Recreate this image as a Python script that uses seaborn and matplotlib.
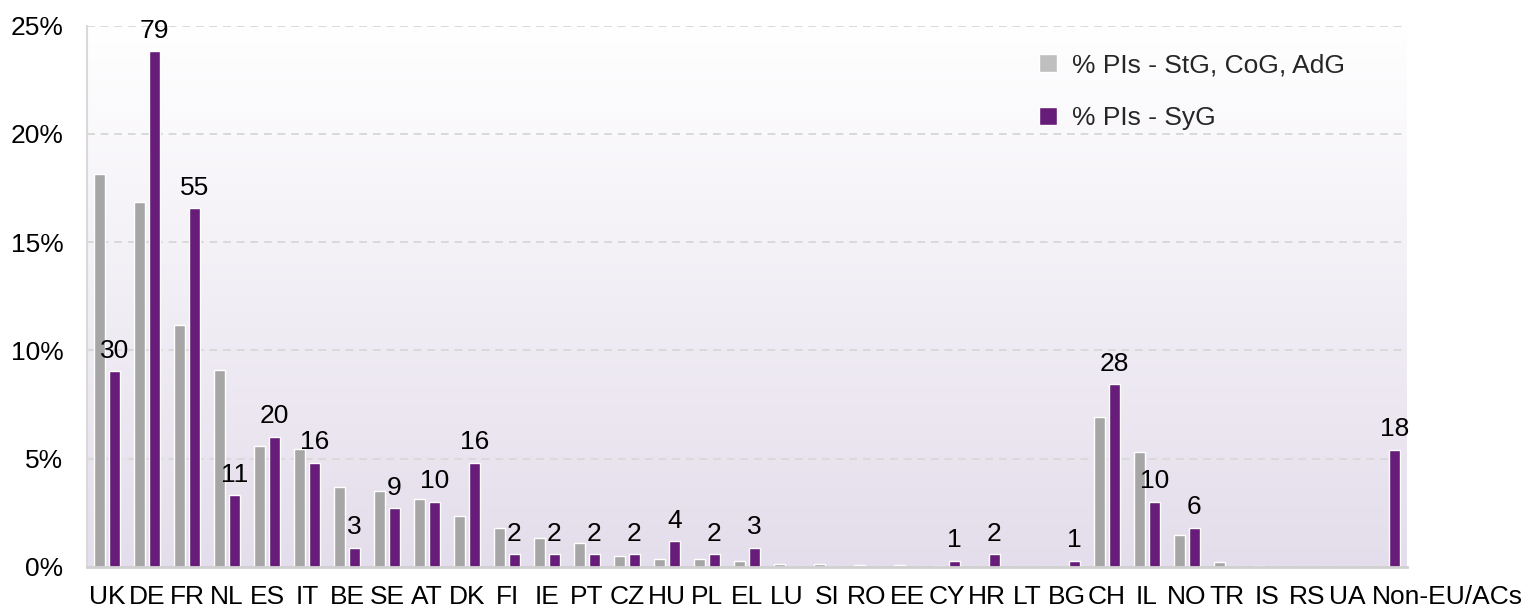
import numpy as np
import pandas as pd
import matplotlib
matplotlib.use("Agg")
import matplotlib.pyplot as plt
import matplotlib.transforms as mtransforms
import seaborn as sns

countries = ["UK", "DE", "FR", "NL", "ES", "IT", "BE", "SE", "AT", "DK", "FI", "IE",
             "PT", "CZ", "HU", "PL", "EL", "LU", "SI", "RO", "EE", "CY", "HR", "LT",
             "BG", "CH", "IL", "NO", "TR", "IS", "RS", "UA", "Non-EU/ACs"]
pct_other = [18.15, 16.85, 11.15, 9.10, 5.60, 5.45, 3.68, 3.50, 3.15, 2.36, 1.82, 1.34,
             1.12, 0.50, 0.37, 0.36, 0.28, 0.14, 0.12, 0.09, 0.09, 0.05, 0.02, 0.02,
             0.00, 6.93, 5.30, 1.50, 0.23, 0.03, 0.00, 0.00, 0.00]
pct_syg = [9.04, 23.80, 16.57, 3.31, 6.02, 4.82, 0.90, 2.71, 3.01, 4.82, 0.60, 0.60,
           0.60, 0.60, 1.20, 0.60, 0.90, 0.00, 0.00, 0.00, 0.00, 0.30, 0.60, 0.00,
           0.30, 8.43, 3.01, 1.81, 0.00, 0.00, 0.00, 0.00, 5.42]
syg_counts = [30, 79, 55, 11, 20, 16, 3, 9, 10, 16, 2, 2,
              2, 2, 4, 2, 3, 0, 0, 0, 0, 1, 2, 0,
              1, 28, 10, 6, 0, 0, 0, 0, 18]
series_names = ["% PIs - StG, CoG, AdG", "% PIs - SyG"]
yticks = [0, 5, 10, 15, 20, 25]
ytick_labels = ["0%", "5%", "10%", "15%", "20%", "25%"]

GRAY = "#A6A6A6"
PURPLE = "#661C78"
FS = 19

df = pd.DataFrame({
    "country": countries * 2,
    "value": pct_other + pct_syg,
    "series": [series_names[0]] * len(countries) + [series_names[1]] * len(countries),
})

sns.set_style("white")
plt.rcParams["font.family"] = ["Liberation Sans", "DejaVu Sans"]

fig = plt.figure(figsize=(15.27, 6.08), dpi=100)
ax = fig.add_axes([87 / 1527, 1 - 567 / 608, (1407 - 87) / 1527, (567 - 25.5) / 608])

# gradient background
grad = np.linspace(0, 1, 256).reshape(-1, 1)
top = np.array([1.0, 1.0, 1.0])
bot = np.array([0xE4, 0xDD, 0xEB]) / 255
img = top[None, None, :] * (1 - grad[:, :, None]) + bot[None, None, :] * grad[:, :, None]
ax.imshow(img, extent=[0, 1, 0, 1], transform=ax.transAxes, aspect="auto", zorder=0)

sns.barplot(data=df, x="country", y="value", hue="series", order=countries,
            hue_order=series_names, palette=[GRAY, PURPLE], width=0.725, gap=0.22,
            saturation=1, ax=ax, zorder=3, legend=True)

ax.set_xlim(-0.5, len(countries) - 0.5)
ax.set_ylim(0, 25)
ax.set_yticks(yticks)
ax.set_yticklabels(ytick_labels)
ax.set_xlabel("")
ax.set_ylabel("")
ax.tick_params(axis="y", length=0, pad=17, labelsize=FS, labelcolor="black")
ax.tick_params(axis="x", length=0, pad=13, labelsize=FS, labelcolor="black")

# last category label sits shifted right in the reference
last = ax.get_xticklabels()[-1]
last.set_transform(last.get_transform() + mtransforms.ScaledTranslation(0.60, 0, fig.dpi_scale_trans))

for y in yticks[1:]:
    ax.axhline(y, color="#D9D9D9", lw=1.4, ls=(0, (4, 3)), zorder=1)

for s in ["top", "right"]:
    ax.spines[s].set_visible(False)
ax.spines["left"].set_color("#D9D9D9")
ax.spines["left"].set_linewidth(1.5)
ax.spines["bottom"].set_color("#D0D0D0")
ax.spines["bottom"].set_linewidth(2)
ax.spines["bottom"].set_zorder(4)

purple_container = ax.containers[1]
ax.bar_label(purple_container, labels=[str(c) if c else "" for c in syg_counts],
             padding=6, fontsize=FS, color="black", zorder=5)

handles, labels = ax.get_legend_handles_labels()
leg = ax.legend(handles, labels, loc="upper left",
                bbox_to_anchor=(1039 / 1527, 1 - 53 / 608), bbox_transform=fig.transFigure,
                frameon=False, fontsize=FS, labelspacing=1.1, handlelength=0.7,
                handleheight=0.7, handletextpad=0.55, borderpad=0, borderaxespad=0)
leg.legend_handles[0].set_facecolor("#BFBFBF")

fig.savefig("out.png", dpi=100)
